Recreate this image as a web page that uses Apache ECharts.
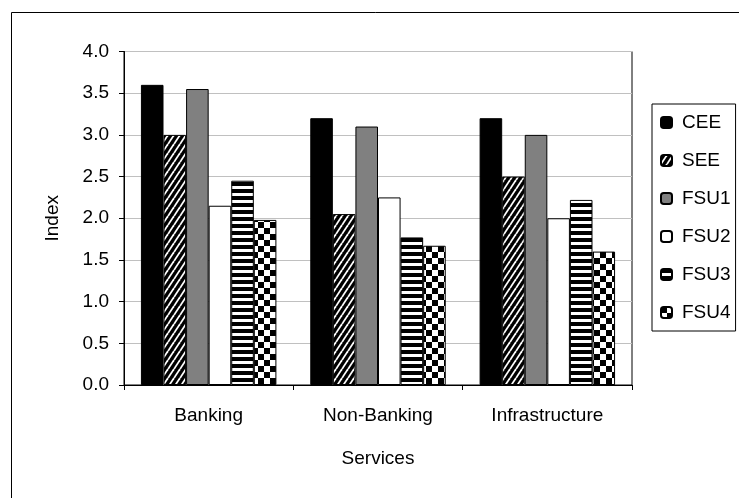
<!DOCTYPE html>
<html>
<head>
<meta charset="utf-8">
<script src="https://cdn.jsdelivr.net/npm/echarts@6/dist/echarts.min.js"></script>
<style>
html,body{margin:0;padding:0;background:#fff;}
#chart{width:739px;height:498px;}
</style>
</head>
<body>
<div id="chart"></div>
<script>
var categories = ['Banking', 'Non-Banking', 'Infrastructure'];
var seriesNames = ['CEE', 'SEE', 'FSU1', 'FSU2', 'FSU3', 'FSU4'];
var CEE  = [3.6, 3.2, 3.2];
var SEE  = [3.0, 2.05, 2.5];
var FSU1 = [3.55, 3.1, 3.0];
var FSU2 = [2.15, 2.25, 2.0];
var FSU3 = [2.45, 1.77, 2.22];
var FSU4 = [1.98, 1.67, 1.6];
var yTicks = ['0.0','0.5','1.0','1.5','2.0','2.5','3.0','3.5','4.0'];

function makeTile(w, h, draw) {
  var c = document.createElement('canvas');
  c.width = w; c.height = h;
  var ctx = c.getContext('2d');
  draw(ctx, w, h);
  return { image: c, repeat: 'repeat' };
}
var diagPattern = makeTile(6, 9, function (ctx, w, h) {
  ctx.fillStyle = '#000'; ctx.fillRect(0, 0, w, h);
  ctx.strokeStyle = '#fff'; ctx.lineWidth = 1.8;
  for (var k = -1; k <= 1; k++) {
    ctx.beginPath(); ctx.moveTo(k * w, h); ctx.lineTo(k * w + w, 0); ctx.stroke();
  }
});
var hStripePattern = makeTile(4, 7, function (ctx, w, h) {
  ctx.fillStyle = '#fff'; ctx.fillRect(0, 0, w, h);
  ctx.fillStyle = '#000'; ctx.fillRect(0, 0, w, 4);
});
var checkerPattern = makeTile(12, 12, function (ctx, w, h) {
  ctx.fillStyle = '#fff'; ctx.fillRect(0, 0, w, h);
  ctx.fillStyle = '#000'; ctx.fillRect(0, 0, 6, 6); ctx.fillRect(6, 6, 6, 6);
});

var fills = ['#000000', diagPattern, '#808080', '#ffffff', hStripePattern, checkerPattern];
var dataSets = [CEE, SEE, FSU1, FSU2, FSU3, FSU4];
var FONT = 'Liberation Sans';
var FS = 19;

var series = seriesNames.map(function (n, i) {
  return {
    name: n, type: 'bar', data: dataSets[i],
    barGap: '0%', barCategoryGap: '20%',
    itemStyle: { color: fills[i], borderColor: '#000', borderWidth: 1 },
    emphasis: { disabled: true },
    animation: false
  };
});

var chart = echarts.init(document.getElementById('chart'), null, { renderer: 'canvas' });
chart.setOption({
  animation: false,
  backgroundColor: '#fff',
  textStyle: { fontFamily: FONT },
  graphic: [{
    type: 'rect', shape: { x: 11.5, y: 12.5, width: 900, height: 700 },
    style: { fill: 'none', stroke: '#000', lineWidth: 1 }, silent: true, z: -10
  }],
  grid: { left: 124, right: 107, top: 51.5, bottom: 113, show: true, borderColor: '#000', borderWidth: 1 },
  legend: {
    orient: 'vertical', left: 652, top: 104,
    data: seriesNames,
    itemWidth: 11, itemHeight: 11, itemGap: 19,
    padding: [9, 5, 9, 8],
    borderColor: '#000', borderWidth: 1,
    textStyle: { fontFamily: FONT, fontSize: FS, color: '#000', padding: [0, 0, 0, 5] },
    selectedMode: false
  },
  xAxis: {
    type: 'category', data: categories,
    name: 'Services', nameLocation: 'middle', nameGap: 64,
    nameTextStyle: { fontFamily: FONT, fontSize: FS, color: '#000' },
    axisLine: { lineStyle: { color: '#000', width: 1 } },
    axisTick: { show: true, length: 5, lineStyle: { color: '#000' } },
    axisLabel: { fontFamily: FONT, fontSize: FS, color: '#000', margin: 21 },
    splitLine: { show: false }
  },
  yAxis: {
    type: 'value', min: 0, max: 4, interval: 0.5,
    name: 'Index', nameLocation: 'middle', nameGap: 62,
    nameTextStyle: { fontFamily: FONT, fontSize: FS, color: '#000' },
    axisLine: { show: true, lineStyle: { color: '#000', width: 1 } },
    axisTick: { show: true, length: 5, lineStyle: { color: '#000' } },
    axisLabel: { fontFamily: FONT, fontSize: FS, color: '#000', margin: 15,
      formatter: function (v) { return yTicks[Math.round(v / 0.5)]; } },
    splitLine: { show: true, lineStyle: { color: '#c0c0c0', width: 1 } }
  },
  series: series
});
</script>
</body>
</html>
